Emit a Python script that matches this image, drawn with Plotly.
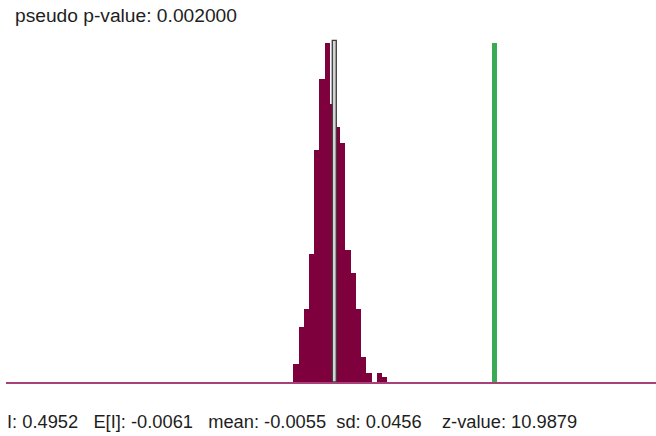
import plotly.graph_objects as go

# ---- data ----
bin_start = -0.1342          # left edge of first bin (Moran's I units)
bin_width = 0.01631          # width of each bin
counts = [8, 24, 32, 56, 102, 133, 149, 122, 112, 105, 58, 48, 32, 11, 4, 0, 4, 2]

observed_I = 0.4952
expected_I = -0.0061
perm_mean = -0.0055
perm_sd = 0.0456
z_value = 10.9879
pseudo_p = 0.002000

x_range = [-1.0320, 0.9993]

# ---- derived ----
centers = [bin_start + bin_width * (i + 0.5) for i in range(len(counts))]
ymax_count = max(counts)

fig = go.Figure()

fig.add_trace(go.Bar(
    x=centers, y=counts, width=[bin_width] * len(counts),
    marker=dict(color="#7e003d", line=dict(width=0)),
    hoverinfo="skip", showlegend=False,
))

# expected I marker (grey)
fig.add_trace(go.Bar(
    x=[expected_I], y=[ymax_count + 1], width=[0.0125],
    marker=dict(color="#d4d4d4", line=dict(color="#3a3a3a", width=1.3)),
    hoverinfo="skip", showlegend=False,
))

# observed I (green)
fig.add_trace(go.Bar(
    x=[observed_I], y=[ymax_count], width=[0.0166],
    marker=dict(color="#3aaa55", line=dict(width=0)),
    hoverinfo="skip", showlegend=False,
))

W, H = 656, 436
ml, mr, mt, mb = 6, 0, 30, 54
ph = H - mt - mb

def py(ypix):
    return (H - mb - ypix) / ph

def px(xpix):
    return (xpix - ml) / (W - ml - mr)

font_top = dict(family="Arial, Liberation Sans, sans-serif", size=19.2, color="#1e1e1e")
font_bot = dict(family="Arial, Liberation Sans, sans-serif", size=18.3, color="#1e1e1e")
nb = "\u00a0"

fig.add_annotation(
    xref="paper", yref="paper", x=px(13), y=py(15.6),
    xanchor="left", yanchor="middle", showarrow=False,
    text=f"pseudo p-value: {pseudo_p:.6f}", font=font_top,
)

bottom = (f"I: {observed_I:.4f}" + nb * 3 + f"E[I]: {expected_I:.4f}" + nb * 3 +
          f"mean: {perm_mean:.4f}" + nb * 2 + f"sd: {perm_sd:.4f}" + nb * 4 +
          f"z-value: {z_value:.4f}")
fig.add_annotation(
    xref="paper", yref="paper", x=px(5), y=py(421),
    xanchor="left", yanchor="middle", showarrow=False,
    text=bottom, font=font_bot,
)

fig.update_layout(
    width=W, height=H,
    margin=dict(l=ml, r=mr, t=mt, b=mb, pad=0),
    paper_bgcolor="white", plot_bgcolor="white",
    barmode="overlay", bargap=0,
    showlegend=False,
    hovermode=False,
    xaxis=dict(range=x_range, showgrid=False, zeroline=False, showticklabels=False,
               ticks="", showline=True, linecolor="#a8407a", linewidth=2, fixedrange=True),
    yaxis=dict(range=[0, ph / 2.277], showgrid=False, zeroline=False,
               showticklabels=False, ticks="", showline=False, fixedrange=True),
)

fig.write_html(
    "out.html",
    config={"displayModeBar": False, "staticPlot": True},
    post_script="document.body.style.margin='0';document.body.style.overflow='hidden';",
)
